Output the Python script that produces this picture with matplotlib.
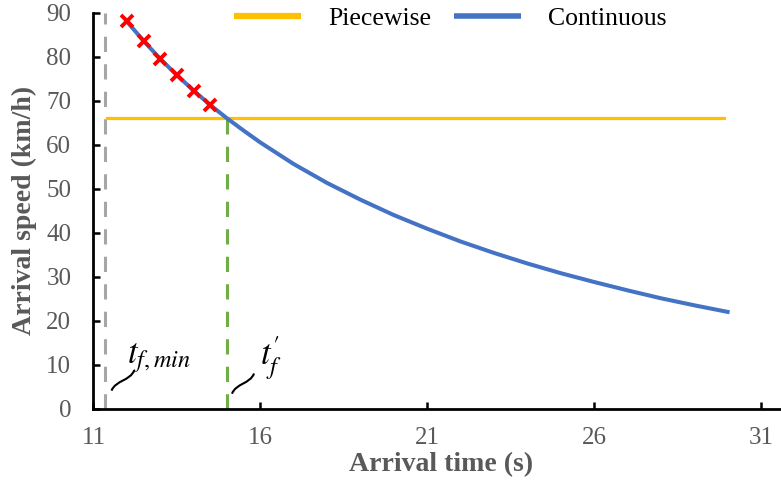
import matplotlib
matplotlib.use("Agg")
import matplotlib.pyplot as plt
from matplotlib.path import Path
from matplotlib.patches import PathPatch

plt.rcParams['font.family'] = ['Liberation Serif', 'DejaVu Serif']
plt.rcParams['mathtext.fontset'] = 'stix'

# data
time_cont = [12, 12.5, 13, 13.5, 14, 14.5, 15, 15.5, 16, 17, 18, 19, 20, 21, 22,
             23, 24, 25, 26, 27, 28, 29, 30]
speed_cont = [88, 83.6, 79.5, 75.8, 72.3, 69.0, 66, 63.2, 60.5, 55.6, 51.3, 47.5,
              44, 40.9, 38, 35.4, 33, 30.8, 28.8, 26.9, 25.1, 23.5, 22]
time_marks = [12, 12.5, 13, 13.5, 14, 14.5]
speed_marks = [88, 83.6, 79.5, 75.8, 72.3, 69.0]
piecewise_t = [11.4, 29.9]
piecewise_v = [66, 66]
t_f_min = 11.35
t_f_prime = 15.0
v_prime = 66

gray_txt = '#595959'

fig = plt.figure(figsize=(7.81, 4.88), dpi=100)
ax = fig.add_axes([0.1197, 0.1625, 0.8803, 0.8115])

ax.plot(piecewise_t, piecewise_v, color='#FFC000', lw=2.3, label='Piecewise', zorder=3)
ax.plot(time_cont, speed_cont, color='#4472C4', lw=2.9, label='Continuous', zorder=4)
ax.plot(time_marks, speed_marks, ls='none', marker='x', ms=9, mew=2.8,
        color='#FF0000', zorder=5)
ax.plot([t_f_min, t_f_min], [0, 90], color='#A6A6A6', lw=2.2, ls=(0, (5, 4)), zorder=2)
ax.plot([t_f_prime, t_f_prime], [0, v_prime], color='#70AD47', lw=2.2, ls=(0, (5, 4)), zorder=2)

ax.set_xlim(11, 31.6)
ax.set_ylim(0, 90)
ax.set_xticks([11, 16, 21, 26, 31])
ax.set_yticks(range(0, 91, 10))
for s in ['top', 'right']:
    ax.spines[s].set_visible(False)
for s in ['left', 'bottom']:
    ax.spines[s].set_linewidth(2)
ax.tick_params(direction='in', length=5, width=1.8, labelsize=18, labelcolor=gray_txt)
ax.tick_params(axis='y', pad=16)
ax.tick_params(axis='x', pad=13)

ax.set_xlabel('Arrival time (s)', fontsize=20, fontweight='bold', color=gray_txt)
ax.set_ylabel('Arrival speed (km/h)', fontsize=20, fontweight='bold', color=gray_txt)
ax.xaxis.set_label_coords(0.505, -0.11)
ax.yaxis.set_label_coords(-0.082, 0.5)

# squiggle leaders for the time labels
sx, sy = 33.3, 4.39


def squiggle(x0, y0, x1, y1, h=5):
    dx, dy = (x1 - x0) * sx, (y1 - y0) * sy
    L = (dx ** 2 + dy ** 2) ** 0.5
    nx, ny = -dy / L * h, dx / L * h
    p1 = (x0 + (dx / 3 + nx) / sx, y0 + (dy / 3 + ny) / sy)
    p2 = (x0 + (2 * dx / 3 - nx) / sx, y0 + (2 * dy / 3 - ny) / sy)
    path = Path([(x0, y0), p1, p2, (x1, y1)],
                [Path.MOVETO, Path.CURVE4, Path.CURVE4, Path.CURVE4])
    ax.add_patch(PathPatch(path, fill=False, color='black', lw=1.5, clip_on=False))


squiggle(11.54, 4.1, 12.22, 8.7)
squiggle(15.15, 3.4, 15.81, 8.0)
ax.text(12.0, 10.4, r'$t_{f,min}$', fontsize=25, ha='left', va='baseline')
ax.text(16.0, 9.9, r"$t_f^{\prime}$", fontsize=25, ha='left', va='baseline')

leg = ax.legend(loc='center left', bbox_to_anchor=(211 / 781, 1 - 19 / 488),
                bbox_transform=fig.transFigure, ncol=2, frameon=False,
                fontsize=18.5, handlelength=2.6, columnspacing=0.9, handletextpad=1.05)
for line, w in zip(leg.get_lines(), [4.5, 4]):
    line.set_linewidth(w)
    line.set_solid_capstyle('butt')

fig.savefig('out.png', dpi=100)
